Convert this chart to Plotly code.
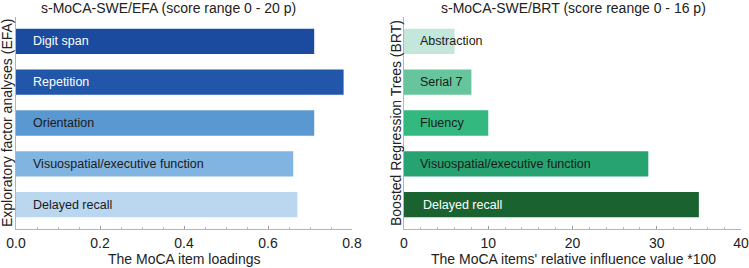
import plotly.graph_objects as go

efa_items = ["Digit span", "Repetition", "Orientation", "Visuospatial/executive function", "Delayed recall"]
efa_loadings = [0.71, 0.78, 0.71, 0.66, 0.67]
efa_colors = ["#1b4b9e", "#2156a8", "#5a98d1", "#82b4e1", "#bbd7f0"]
efa_text_colors = ["white", "white", "#1a1a1a", "#1a1a1a", "#1a1a1a"]

brt_items = ["Abstraction", "Serial 7", "Fluency", "Visuospatial/executive function", "Delayed recall"]
brt_influence = [6, 8, 10, 29, 35]
brt_colors = ["#c3e7db", "#67c59d", "#33b97f", "#27a371", "#1a6331"]
brt_text_colors = ["#1a1a1a", "#1a1a1a", "#1a1a1a", "#1a1a1a", "white"]

efa_ticks = [0.0, 0.2, 0.4, 0.6, 0.8]
brt_ticks = [0, 10, 20, 30, 40]

FONT = "Liberation Sans, Arial, sans-serif"
W, H = 749, 268
FS = 14

fig = go.Figure()
fig.add_trace(go.Bar(x=efa_loadings, y=efa_items, orientation="h",
                     marker=dict(color=efa_colors, line=dict(width=0)),
                     width=0.62, xaxis="x", yaxis="y", hoverinfo="x+y"))
fig.add_trace(go.Bar(x=brt_influence, y=brt_items, orientation="h",
                     marker=dict(color=brt_colors, line=dict(width=0)),
                     width=0.62, xaxis="x2", yaxis="y2", hoverinfo="x+y"))

ytop = 1 - 17 / H
ybot = 1 - 229 / H
xaxis_common = dict(showgrid=False, zeroline=False, showline=True, linecolor="#b5b5b5",
                    linewidth=1, ticks="inside", ticklen=3, tickcolor="#999999",
                    automargin=False, ticklabelstandoff=1,
                    tickfont=dict(family=FONT, size=FS, color="#222"),
                    minor=dict(ticks="inside", ticklen=2, tickcolor="#bbbbbb"))
yaxis_common = dict(showgrid=False, zeroline=False, showline=True, linecolor="#b5b5b5",
                    linewidth=1, showticklabels=False, ticks="", automargin=False,
                    domain=[ybot, ytop], range=[4.6, -0.6], autorange=False)

fig.update_layout(
    width=W, height=H, margin=dict(l=0, r=0, t=0, b=0, autoexpand=False),
    paper_bgcolor="white", plot_bgcolor="white", showlegend=False,
    font=dict(family=FONT, color="#222"),
    xaxis=dict(domain=[16 / W, 352 / W], range=[0, 0.8], tickvals=efa_ticks,
               ticktext=["%.1f" % t for t in efa_ticks], anchor="y",
               **xaxis_common),
    yaxis=dict(anchor="x", **yaxis_common),
    xaxis2=dict(domain=[404 / W, 741 / W], range=[0, 40], tickvals=brt_ticks,
                ticktext=[str(t) for t in brt_ticks], anchor="y2",
                **xaxis_common),
    yaxis2=dict(anchor="x2", **yaxis_common),
)

ann = []
for i, (name, tc) in enumerate(zip(efa_items, efa_text_colors)):
    ann.append(dict(x=0, y=name, xref="x", yref="y", text=name, showarrow=False,
                    xanchor="left", xshift=15, font=dict(family=FONT, size=12.5, color=tc)))
for i, (name, tc) in enumerate(zip(brt_items, brt_text_colors)):
    ann.append(dict(x=0, y=name, xref="x2", yref="y2", text=name, showarrow=False,
                    xanchor="left", xshift=14 if i < 4 else 17,
                    font=dict(family=FONT, size=12.5, color=tc)))

ann += [
    dict(x=168 / W, y=1 - 8 / H, xref="paper", yref="paper", text="s-MoCA-SWE/EFA (score range 0 - 20 p)",
         showarrow=False, font=dict(family=FONT, size=FS, color="#222"), xanchor="center", yanchor="middle"),
    dict(x=573 / W, y=1 - 8 / H, xref="paper", yref="paper", text="s-MoCA-SWE/BRT (score reange 0 - 16 p)",
         showarrow=False, font=dict(family=FONT, size=FS, color="#222"), xanchor="center", yanchor="middle"),
    dict(x=184 / W, y=1 - 259 / H, xref="paper", yref="paper", text="The MoCA item loadings",
         showarrow=False, font=dict(family=FONT, size=FS, color="#222"), xanchor="center", yanchor="middle"),
    dict(x=573 / W, y=1 - 259 / H, xref="paper", yref="paper", text="The MoCA items' relative influence value *100",
         showarrow=False, font=dict(family=FONT, size=FS, color="#222"), xanchor="center", yanchor="middle"),
    dict(x=7 / W, y=1 - 123 / H, xref="paper", yref="paper", text="Exploratory factor analyses (EFA)",
         showarrow=False, textangle=-90, font=dict(family=FONT, size=FS, color="#222"),
         xanchor="center", yanchor="middle"),
    dict(x=396 / W, y=1 - 123 / H, xref="paper", yref="paper", text="Boosted Regression Trees (BRT)",
         showarrow=False, textangle=-90, font=dict(family=FONT, size=FS, color="#222"),
         xanchor="center", yanchor="middle"),
]
fig.update_layout(annotations=ann)

fig.write_html("out.html", config={"displayModeBar": False},
               post_script="document.body.style.margin='0';document.body.style.overflow='hidden';")
